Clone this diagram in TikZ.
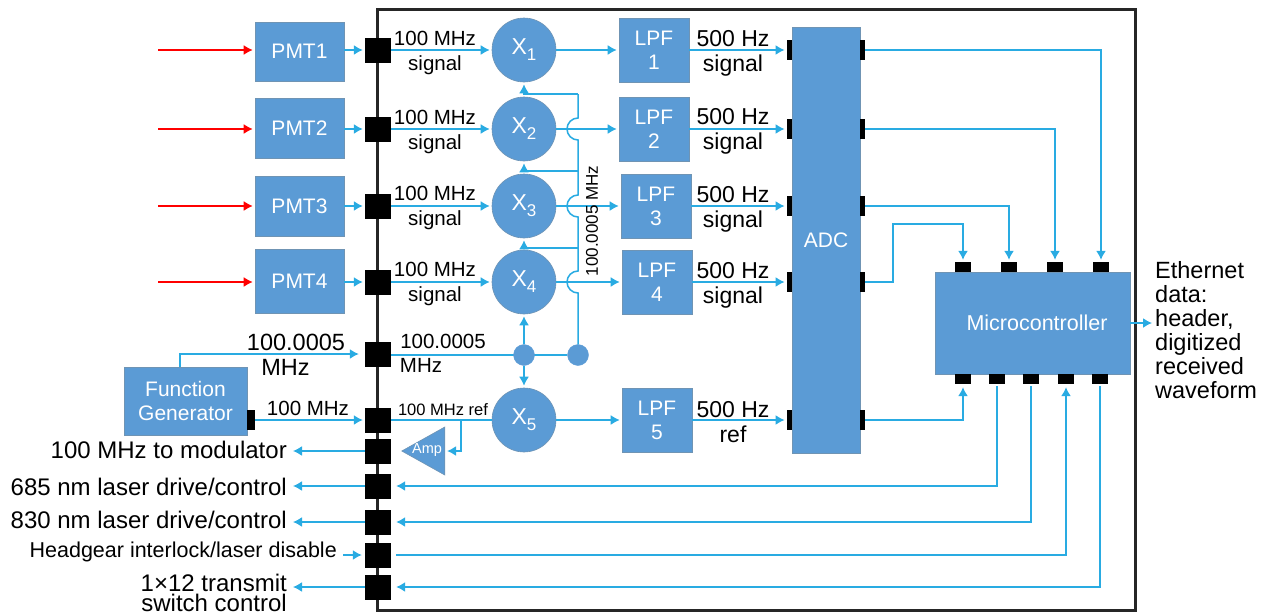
\documentclass[tikz,border=0pt]{standalone}
\usepackage{fontspec}
\setmainfont{Liberation Sans}
\usepackage{tikz}
\usetikzlibrary{arrows.meta,calc,positioning,shapes.geometric}
\definecolor{blockblue}{HTML}{5B9BD5}
\definecolor{blockedge}{HTML}{6F94B4}
\definecolor{wireblue}{HTML}{29ABE2}
\newcommand{\mixname}[1]{X\raisebox{-6pt}{\fontsize{17}{17}\selectfont #1}}
\tikzset{
  block/.style={draw=blockedge,line width=0.6pt,fill=blockblue,text=white,inner sep=0pt,align=center,
    font=\fontsize{21}{24}\selectfont},
  mixer/.style={circle,block,minimum size=64pt,font=\fontsize{23}{24}\selectfont},
  joint/.style={circle,fill=blockblue,draw=blockblue,minimum size=21pt,inner sep=0pt},
  port/.style={fill=black,inner sep=0pt,minimum width=26pt,minimum height=25pt},
  pin/.style={fill=black,inner sep=0pt,minimum width=5.5pt,minimum height=20pt},
  mpin/.style={fill=black,inner sep=0pt,minimum width=16pt,minimum height=10pt},
  wire/.style={draw=wireblue,line width=1.5pt},
  wirearrow/.style={wire,-{Latex[length=9pt,width=10pt]},shorten >=2pt},
  redarrow/.style={draw=red,line width=1.5pt,-{Latex[length=9pt,width=10pt]},shorten >=2pt},
  sigtext/.style={inner sep=0pt,align=center,font=\fontsize{20.5}{25}\selectfont},
  hztext/.style={inner sep=0pt,align=center,font=\fontsize{23}{25}\selectfont},
  sidetext/.style={inner sep=0pt,anchor=east,align=right,font=\fontsize{24}{20}\selectfont},
}
\begin{document}
\begin{tikzpicture}[x=1pt,y=-1pt]
            \useasboundingbox (0,0) rectangle (1267,613);
            % Enclosure
            \draw[line width=3pt,draw=black!85] (377,9) rectangle (1135,610);
            % Ports on the enclosure
            \node[port] (portA) at (378,50) {};
            \node[port] (portB) at (378,129) {};
            \node[port] (portC) at (378,206) {};
            \node[port] (portD) at (378,282) {};
            \node[port] (portE) at (378,354) {};
            \node[port] (portF) at (378,420) {};
            \node[port] (portG) at (378,451) {};
            \node[port] (portH) at (378,486) {};
            \node[port] (portI) at (378,522) {};
            \node[port] (portJ) at (378,555) {};
            \node[port] (portK) at (378,587) {};
            % Detectors
            \node[block,minimum width=89pt,minimum height=59pt] (pmtA) at (299.5,51.5) {PMT1};
            \node[block,minimum width=89pt,minimum height=60pt] (pmtB) at (299.5,128) {PMT2};
            \node[block,minimum width=89pt,minimum height=60pt] (pmtC) at (299.5,206) {PMT3};
            \node[block,minimum width=89pt,minimum height=64pt] (pmtD) at (299.5,281) {PMT4};
            \coordinate (inA) at (158,50);
            \coordinate (inB) at (158,129);
            \coordinate (inC) at (158,206);
            \coordinate (inD) at (158,282);
            \draw[redarrow] (inA) -- (inA -| pmtA.west);
            \draw[redarrow] (inB) -- (inB -| pmtB.west);
            \draw[redarrow] (inC) -- (inC -| pmtC.west);
            \draw[redarrow] (inD) -- (inD -| pmtD.west);
            \draw[wirearrow] (portA -| pmtA.east) -- (portA.west);
            \draw[wirearrow] (portB -| pmtB.east) -- (portB.west);
            \draw[wirearrow] (portC -| pmtC.east) -- (portC.west);
            \draw[wirearrow] (portD -| pmtD.east) -- (portD.west);
            % Mixers
            \node[mixer] (mixA) at (524,50) {\mixname{1}};
            \node[mixer] (mixB) at (524,129) {\mixname{2}};
            \node[mixer] (mixC) at (524,206) {\mixname{3}};
            \node[mixer] (mixD) at (524,282) {\mixname{4}};
            \node[mixer] (mixE) at (524,420) {\mixname{5}};
            % Low pass filters
            \node[block,minimum width=70pt,minimum height=64pt] (lpfA) at (654,50) {LPF\\1};
            \node[block,minimum width=70pt,minimum height=64pt] (lpfB) at (654,129) {LPF\\2};
            \node[block,minimum width=70pt,minimum height=64pt] (lpfC) at (656,206) {LPF\\3};
            \node[block,minimum width=70pt,minimum height=64pt] (lpfD) at (657,282) {LPF\\4};
            \node[block,minimum width=70pt,minimum height=64pt] (lpfE) at (657,420) {LPF\\5};
            % Converter
            \node[block,minimum width=68pt,minimum height=426pt] (adc) at (826,240) {ADC};
            \node[pin] (adcLa) at (789.5,50) {};
            \node[pin] (adcLb) at (789.5,129) {};
            \node[pin] (adcLc) at (789.5,206) {};
            \node[pin] (adcLd) at (789.5,282) {};
            \node[pin] (adcLe) at (789.5,420) {};
            \node[pin] (adcRa) at (862.5,50) {};
            \node[pin] (adcRb) at (862.5,129) {};
            \node[pin] (adcRc) at (862.5,206) {};
            \node[pin] (adcRd) at (862.5,282) {};
            \node[pin] (adcRe) at (862.5,420) {};
            % Microcontroller
            \node[block,minimum width=195pt,minimum height=102pt,font=\fontsize{21.5}{26}\selectfont] (mcu) at (1032.5,323) {\hspace*{9pt}Microcontroller};
            \node[mpin] (mcuTa) at (963,267) {};
            \node[mpin] (mcuTb) at (1009,267) {};
            \node[mpin] (mcuTc) at (1055,267) {};
            \node[mpin] (mcuTd) at (1101,267) {};
            \node[mpin] (mcuBa) at (963,379) {};
            \node[mpin] (mcuBb) at (997,379) {};
            \node[mpin] (mcuBc) at (1031,379) {};
            \node[mpin] (mcuBd) at (1066,379) {};
            \node[mpin] (mcuBe) at (1100,379) {};
            % Signal path
            \draw[wirearrow] (portA.east) -- (mixA.west);
            \draw[wirearrow] (portB.east) -- (mixB.west);
            \draw[wirearrow] (portC.east) -- (mixC.west);
            \draw[wirearrow] (portD.east) -- (mixD.west);
            \draw[wire] (portF.east) -- (mixE.west);
            \draw[wirearrow] (mixA.east) -- (lpfA.west);
            \draw[wirearrow] (mixB.east) -- (lpfB.west);
            \draw[wirearrow] (mixC.east) -- (lpfC.west);
            \draw[wirearrow] (mixD.east) -- (lpfD.west);
            \draw[wirearrow] (mixE.east) -- (lpfE.west);
            \draw[wirearrow] (lpfA.east) -- (adcLa.west);
            \draw[wirearrow] (lpfB.east) -- (adcLb.west);
            \draw[wirearrow] (lpfC.east) -- (adcLc.west);
            \draw[wirearrow] (lpfD.east) -- (adcLd.west);
            \draw[wirearrow] (lpfE.east) -- (adcLe.west);
            \draw[wirearrow] (adcRa.east) -| (mcuTd.north);
            \draw[wirearrow] (adcRb.east) -| (mcuTc.north);
            \draw[wirearrow] (adcRc.east) -| (mcuTb.north);
            \coordinate (adcBend) at (893,224);
            \draw[wirearrow] (adcRd.east) -| (adcBend) -| (mcuTa.north);
            \draw[wirearrow,shorten >=3pt] (adcRe.east) -| (mcuBa.south);
            % Reference feed with hops over the signal wires
            \node[joint] (dotB) at (578,355) {};
            \draw[wire] (portE.east |- dotB) -- (dotB);
            \node[joint] (dotA) at (524,355) {};
            \coordinate (feedTop) at (578,94);
            \coordinate (feedB) at (578,171);
            \coordinate (feedC) at (578,248);
            \draw[wire] (feedTop) -- ([yshift=11pt]feedTop |- mixB.east) arc[start angle=90,end angle=270,radius=11pt]
            -- ([yshift=11pt]feedTop |- mixC.east) arc[start angle=90,end angle=270,radius=11pt]
            -- ([yshift=11pt]feedTop |- mixD.east) arc[start angle=90,end angle=270,radius=11pt]
            -- (dotB);
            \draw[wirearrow] (feedTop) -| (mixA.south);
            \draw[wirearrow] (feedB) -| (mixB.south);
            \draw[wirearrow] (feedC) -| (mixC.south);
            \draw[wirearrow] (dotA) -- (mixD.south);
            \draw[wirearrow] (dotA) -- (mixE.north);
            % Function generator
            \node[block,minimum width=123pt,minimum height=68pt] (fgen) at (185.5,401) {Function\\Generator};
            \node[fill=black,inner sep=0pt,minimum width=8pt,minimum height=20pt] (fgenPin) at (251,420) {};
            \coordinate (fgenTap) at (180,367);
            \draw[wirearrow,shorten >=6pt] (fgenTap) |- (portE.west);
            \draw[wirearrow] (fgenPin.east) -- (portF.west);
            % Amplifier
            \node[isosceles triangle,shape border rotate=180,isosceles triangle stretches,draw=blockedge,line width=0.6pt,fill=blockblue,
              minimum width=48pt,minimum height=43pt,inner sep=0pt,anchor=apex] (amp) at (401,451) {};
            \node[inner sep=0pt,text=white,font=\fontsize{14.5}{16}\selectfont] (ampText) at (427,450) {Amp};
            \coordinate (ampTap) at (461,420);
            \draw[wirearrow] (ampTap) |- (amp.east);
            % Lines out of the enclosure
            \node[sidetext] (labG) at (287,450) {100 MHz to modulator};
            \node[sidetext] (labH) at (287,487) {685 nm laser drive/control};
            \node[sidetext] (labI) at (287,520) {830 nm laser drive/control};
            \node[sidetext,font=\fontsize{21.5}{24}\selectfont] (labJ) at (337,552) {Headgear interlock/laser disable};
            \node[sidetext] (labK) at (287,593) {1×12 transmit\\switch control};
            \draw[wirearrow,shorten >=6pt] (portG.west) -- (portG -| labG.east);
            \draw[wirearrow,shorten >=6pt] (portH.west) -- (portH -| labH.east);
            \draw[wirearrow,shorten >=6pt] (portI.west) -- (portI -| labI.east);
            \draw[wirearrow,shorten <=6pt,shorten >=3pt] (portJ -| labJ.east) -- (portJ.west);
            \draw[wirearrow,shorten >=6pt] (portK.west) -- (portK -| labK.east);
            % Return lines from the microcontroller
            \draw[wirearrow,shorten <=2pt,shorten >=5pt] (mcuBb.south) |- (portH.east);
            \draw[wirearrow,shorten <=2pt,shorten >=5pt] (mcuBc.south) |- (portI.east);
            \draw[wirearrow,shorten <=5pt,shorten >=3pt] (portJ.east) -| (mcuBd.south);
            \draw[wirearrow,shorten <=2pt,shorten >=5pt] (mcuBe.south) |- (portK.east);
            % Ethernet output
            \node[inner sep=0pt,anchor=west,align=left,font=\fontsize{23.5}{24}\selectfont] (eth) at (1155,330) {Ethernet\\data:\\header,\\digitized\\received\\waveform};
            \draw[wirearrow,shorten >=3pt] (mcu.east) -- (mcu.east -| eth.west);
            % Label the wires
            \node[sigtext] (sigA) at (435,53) {100 MHz\\signal};
            \node[sigtext] (sigB) at (435,132) {100 MHz\\signal};
            \node[sigtext] (sigC) at (435,208) {100 MHz\\signal};
            \node[sigtext] (sigD) at (435,284) {100 MHz\\signal};
            \node[hztext] (lowA) at (733,53) {500 Hz\\signal};
            \node[hztext] (lowB) at (733,131) {500 Hz\\signal};
            \node[hztext] (lowC) at (733,209) {500 Hz\\signal};
            \node[hztext] (lowD) at (733,285) {500 Hz\\signal};
            \node[hztext] (lowE) at (733,422) {500 Hz\\ref};
            \node[sigtext,rotate=90,font=\fontsize{17}{20}\selectfont] (feedLab) at (592,221) {100.0005 MHz};
            \node[sigtext] (refIn) at (443,353) {100.0005\\[-1pt]\hspace*{-44pt}MHz};
            \node[sigtext,font=\fontsize{23.5}{25}\selectfont] (refOut) at (296,355) {100.0005\\\hspace*{-21pt}MHz};
            \node[sigtext] (mainOut) at (308,408) {100 MHz};
            \node[sigtext,font=\fontsize{16.5}{20}\selectfont] (mainIn) at (443,410) {100 MHz ref};
          \end{tikzpicture}
\end{document}
